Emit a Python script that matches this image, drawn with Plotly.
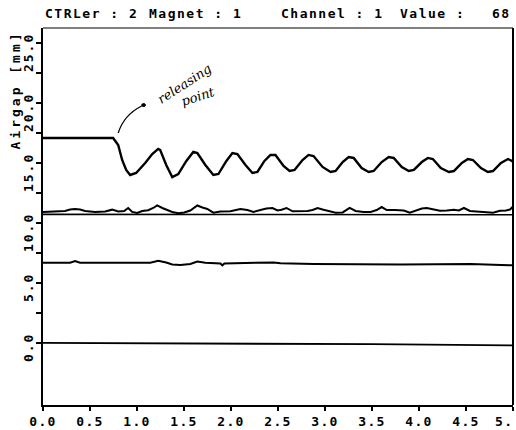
import plotly.graph_objects as go

# ---- data (time in s, airgap in mm) ----
top_x = [0.00, 0.746, 0.80, 0.842, 0.885, 0.927, 0.991, 1.087, 1.162, 1.226, 1.247, 1.311, 1.375,
         1.439, 1.525, 1.599, 1.642, 1.727, 1.812, 1.866, 1.951, 2.015, 2.068, 2.154, 2.228,
         2.281, 2.356, 2.420, 2.473, 2.559, 2.623, 2.676, 2.761, 2.825, 2.878, 2.974, 3.060,
         3.113, 3.188, 3.252, 3.305, 3.390, 3.465, 3.518, 3.603, 3.678, 3.731, 3.817, 3.891,
         3.945, 4.030, 4.094, 4.147, 4.232, 4.318, 4.371, 4.456, 4.520, 4.574, 4.659, 4.733,
         4.787, 4.872, 4.947, 4.989, 5.0]
top_y = [17.08, 17.08, 16.5, 15.25, 14.42, 14.0, 14.17, 15.0, 15.75, 16.17, 16.08, 14.83, 13.83,
         14.08, 15.17, 15.92, 15.83, 14.83, 14.0, 14.08, 15.17, 15.83, 15.75, 14.83, 14.17,
         14.25, 15.17, 15.67, 15.67, 14.75, 14.33, 14.42, 15.25, 15.67, 15.58, 14.67, 14.25,
         14.33, 15.08, 15.5, 15.42, 14.58, 14.25, 14.33, 15.08, 15.5, 15.42, 14.67, 14.33,
         14.42, 15.08, 15.42, 15.33, 14.58, 14.25, 14.33, 15.0, 15.33, 15.25, 14.58, 14.25,
         14.33, 15.0, 15.33, 15.17, 15.08]

noisy_x = [0.00, 0.128, 0.235, 0.288, 0.341, 0.394, 0.448, 0.554, 0.661, 0.736, 0.80, 0.864,
           0.906, 0.949, 1.002, 1.055, 1.119, 1.173, 1.215, 1.269, 1.322, 1.375, 1.439, 1.503,
           1.567, 1.642, 1.695, 1.748, 1.812, 1.887, 1.994, 2.100, 2.175, 2.239, 2.313, 2.377,
           2.441, 2.495, 2.537, 2.591, 2.655, 2.740, 2.814, 2.868, 2.921, 2.974, 3.038, 3.113,
           3.188, 3.262, 3.326, 3.412, 3.486, 3.550, 3.603, 3.657, 3.742, 3.838, 3.902, 3.977,
           4.030, 4.083, 4.147, 4.222, 4.296, 4.371, 4.424, 4.478, 4.542, 4.616, 4.712, 4.787,
           4.861, 4.925, 4.968, 5.0]
noisy_y = [10.92, 10.96, 11.0, 11.12, 11.17, 11.12, 11.0, 10.92, 10.96, 11.11, 10.96, 11.0,
           11.25, 10.92, 10.83, 11.0, 11.06, 11.25, 11.46, 11.25, 11.08, 10.92, 10.81, 10.88,
           11.04, 11.46, 11.29, 11.17, 10.86, 10.96, 10.97, 11.17, 11.08, 10.92, 11.08, 11.21,
           11.25, 11.04, 11.11, 11.25, 10.97, 10.97, 11.0, 11.08, 11.25, 11.12, 11.0, 10.86,
           10.88, 11.25, 11.0, 10.92, 10.92, 11.08, 11.33, 11.08, 11.08, 11.04, 10.86, 11.08,
           11.21, 11.25, 11.17, 11.02, 11.04, 11.11, 11.04, 11.25, 11.0, 10.97, 10.92, 10.86,
           11.02, 11.04, 11.12, 11.37]

flat_x = [0.0, 5.0]
flat_y = [10.72, 10.68]

mid_x = [0.0, 0.288, 0.341, 0.394, 1.141, 1.226, 1.311, 1.375, 1.461, 1.567, 1.642, 1.727,
         1.887, 1.908, 1.93, 2.452, 2.527, 2.878, 3.806, 4.126, 4.552, 4.872, 5.0]
mid_y = [6.69, 6.69, 6.83, 6.69, 6.69, 6.85, 6.71, 6.54, 6.5, 6.58, 6.79, 6.68,
         6.63, 6.47, 6.63, 6.71, 6.64, 6.58, 6.54, 6.58, 6.58, 6.5, 6.47]

zero_x = [0.0, 2.0, 3.5, 5.0]
zero_y = [0.0, -0.05, -0.1, -0.2]

x_ticks = [0.0, 0.5, 1.0, 1.5, 2.0, 2.5, 3.0, 3.5, 4.0, 4.5, 5.0]
x_labels = ["0.0", "0.5", "1.0", "1.5", "2.0", "2.5", "3.0", "3.5", "4.0", "4.5", ""]
x_last_label = "5."
y_ticks = [0.0, 2.5, 5.0, 7.5, 10.0, 12.5, 15.0, 17.5, 20.0, 22.5, 25.0]
y_label_vals = [0.0, 5.0, 10.0, 15.0, 20.0, 25.0]
y_labels = ["0.0", "5.0", "10.0", "15.0", "20.0", "25.0"]

FONT = "DejaVu Sans Mono"


def spaced(t, s):
    return '<span style="letter-spacing:%spx">%s</span>' % (s, t)


fig = go.Figure()
for xs, ys, w in [(top_x, top_y, 2.4), (noisy_x, noisy_y, 2.0), (flat_x, flat_y, 1.6),
                  (mid_x, mid_y, 2.0), (zero_x, zero_y, 1.8)]:
    fig.add_trace(go.Scatter(x=xs, y=ys, mode="lines", line=dict(color="black", width=w),
                             showlegend=False, hoverinfo="skip"))

fig.update_layout(
    width=516, height=430,
    margin=dict(l=43, r=3, t=28, b=25, autoexpand=False),
    paper_bgcolor="white", plot_bgcolor="white",
    font=dict(family=FONT, size=13, color="black", weight="bold"),
    xaxis=dict(range=[0, 5], tickvals=x_ticks, ticktext=[spaced(t, 1.3) for t in x_labels],
               ticklabeloverflow="allow", automargin=False,
               showgrid=False, zeroline=False,
               showline=True, linecolor="black", linewidth=1.5,
               ticks="outside", ticklen=4, tickwidth=1.5, tickcolor="black"),
    yaxis=dict(range=[-5.17, 26.25], tickvals=y_ticks, ticktext=[""] * len(y_ticks),
               automargin=False,
               showgrid=False, zeroline=False, showline=True, linecolor="black", linewidth=2,
               ticks="outside", ticklen=5, tickwidth=1.5, tickcolor="black"),
)

# frame: thin top, heavier right
fig.add_shape(type="line", xref="paper", yref="paper", x0=0, x1=1, y0=1, y1=1,
              line=dict(color="black", width=1))
fig.add_shape(type="line", xref="paper", yref="paper", x0=1, x1=1, y0=0, y1=1,
              line=dict(color="black", width=2))


def px_x(p):
    return (p - 43) / 470.0


def px_y(p):
    return (405 - p) / 377.0


# last x label, truncated as in the print-out
fig.add_annotation(text=spaced(x_last_label, 1.3), xref="paper", yref="paper", x=px_x(515),
                   y=px_y(421), xanchor="right", yanchor="middle", showarrow=False,
                   font=dict(family=FONT, size=13, weight="bold"))

# rotated y tick labels (end of text sits just above the tick)
for v, lab in zip(y_label_vals, y_labels):
    fig.add_annotation(text=spaced(lab, 2.0), xref="paper", yref="y", x=px_x(28), y=v + 0.95,
                       xanchor="center", yanchor="top", textangle=-90, showarrow=False,
                       font=dict(family=FONT, size=13, weight="bold"))

title_parts = [("CTRLer : 2", 43), ("Magnet : 1", 147), ("Channel : 1", 279), ("Value :", 398)]
for txt, p in title_parts:
    fig.add_annotation(text=spaced(txt, 1.5), xref="paper", yref="paper", x=px_x(p), y=px_y(13),
                       xanchor="left", yanchor="middle", showarrow=False,
                       font=dict(family=FONT, size=13, weight="bold"))
fig.add_annotation(text=spaced("68", 1.5), xref="paper", yref="paper", x=px_x(513), y=px_y(13),
                   xanchor="right", yanchor="middle", showarrow=False,
                   font=dict(family=FONT, size=13, weight="bold"))

fig.add_annotation(text=spaced("Airgap [mm]", 3.0), xref="paper", yref="paper", x=px_x(15),
                   y=px_y(29), xanchor="center", yanchor="top", textangle=-90, showarrow=False,
                   font=dict(family=FONT, size=13, weight="bold"))

# handwritten note
fig.add_shape(type="path", path="M 0.80,17.5 Q 0.86,19.0 1.05,19.75",
              xref="x", yref="y", line=dict(color="black", width=1.3))
fig.add_shape(type="circle", xref="x", yref="y", x0=1.05, x1=1.09, y0=19.7, y1=19.95,
              fillcolor="black", line=dict(color="black", width=1))
fig.add_annotation(text="releasing", xref="x", yref="y", x=1.51, y=21.6, textangle=-33,
                   showarrow=False,
                   font=dict(family="DejaVu Serif", size=13, style="italic", weight="normal"))
fig.add_annotation(text="point", xref="x", yref="y", x=1.65, y=20.5, textangle=-18,
                   showarrow=False,
                   font=dict(family="DejaVu Serif", size=13, style="italic", weight="normal"))

fig.write_html("out.html")
